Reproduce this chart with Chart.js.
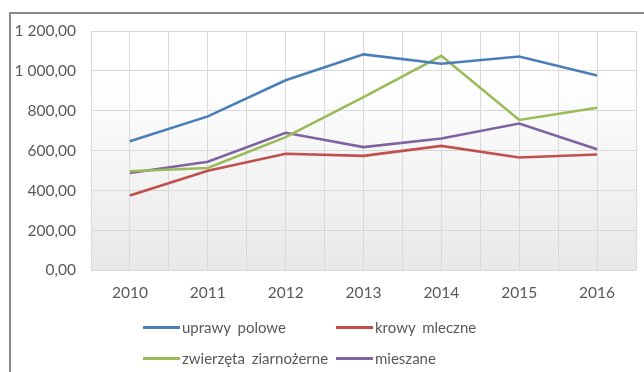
<!DOCTYPE html>
<html>
<head>
<meta charset="utf-8">
<script src="https://cdn.jsdelivr.net/npm/chart.js@4"></script>
<style>
  html, body { margin: 0; padding: 0; background: #fff; }
  #wrap { position: relative; width: 644px; height: 372px; overflow: hidden; }
  #frame { position: absolute; left: 9px; top: 12px; width: 700px; height: 400px;
           border-top: 2px solid #8a8a8a; border-left: 2px solid #8a8a8a; }
  #chart { position: absolute; left: 0; top: 0; }
  .leg { position: absolute; font-family: Lato, "Liberation Sans", sans-serif; font-size: 15px;
         color: #595959; word-spacing: 3px; line-height: 18px; white-space: nowrap; }
  .leg i { position: absolute; left: -39px; top: 8px; width: 37px; height: 3px; }
</style>
</head>
<body>
<div id="wrap">
  <div id="frame"></div>
  <canvas id="chart" width="644" height="372"></canvas>
  <div id="legend"></div>
</div>
<script>
const years = [2010, 2011, 2012, 2013, 2014, 2015, 2016];
const seriesNames = ['uprawy polowe', 'krowy mleczne', 'zwierzęta ziarnożerne', 'mieszane'];
const uprawyPolowe = [647, 772, 953, 1083, 1036, 1072, 977];
const krowyMleczne = [375, 500, 585, 574, 624, 566, 581];
const zwierzetaZiarnozerne = [497, 513, 668, 869, 1076, 754, 815];
const mieszane = [488, 545, 690, 618, 661, 736, 607];
const yTicks = [0, 200, 400, 600, 800, 1000, 1200];
const colors = ['#4a7ebb', '#c0504d', '#9bbb59', '#8064a2'];

// legend slots (two columns, two rows)
const legendPos = [[182, 318], [375, 318], [182, 349], [375, 349]];

function fmt(v) {
    const s = String(Math.round(v)).replace(/\B(?=(\d{3})+(?!\d))/g, ' ');
    return s + ',00';
}

const allSeries = [uprawyPolowe, krowyMleczne, zwierzetaZiarnozerne, mieszane];

const plotBackground = {
    id: 'plotBackground',
    beforeDraw(chart) {
        const { ctx, chartArea: a } = chart;
        const g = ctx.createLinearGradient(0, a.top, 0, a.bottom);
        g.addColorStop(0, '#ffffff');
        g.addColorStop(0.2, '#ffffff');
        g.addColorStop(1, '#e8e8e8');
        ctx.save();
        ctx.fillStyle = g;
        ctx.fillRect(a.left, a.top, a.right - a.left, a.bottom - a.top);
        ctx.restore();
    }
};

new Chart(document.getElementById('chart'), {
    type: 'line',
    data: {
        datasets: allSeries.map((vals, i) => ({
            label: seriesNames[i],
            data: years.map((y, j) => ({ x: y, y: vals[j] })),
            borderColor: colors[i],
            backgroundColor: colors[i],
            borderWidth: 2.6,
            pointRadius: 0,
            tension: 0
        }))
    },
    options: {
        responsive: false,
        animation: false,
        layout: { padding: { left: 0, right: 8, top: 31, bottom: 57 } },
        plugins: { legend: { display: false }, tooltip: { enabled: false } },
        scales: {
            x: {
                type: 'linear',
                min: years[0] - 0.5,
                max: years[years.length - 1] + 0.5,
                afterFit: s => { s.paddingRight = 0; s.paddingLeft = 0; },
                grid: { color: '#d9d9d9', drawTicks: false },
                border: { display: false },
                ticks: {
                    stepSize: 0.5,
                    autoSkip: false,
                    maxRotation: 0,
                    padding: 13,
                    color: '#595959',
                    font: { family: 'Lato, "Liberation Sans", sans-serif', size: 15.5 },
                    callback: v => Number.isInteger(v) ? String(v) : ''
                }
            },
            y: {
                min: yTicks[0],
                max: yTicks[yTicks.length - 1],
                afterBuildTicks: s => { s.ticks = yTicks.map(v => ({ value: v })); },
                afterFit: s => { s.width = 91; },
                grid: { color: '#d9d9d9', drawTicks: false },
                border: { display: false },
                ticks: {
                    padding: 15,
                    color: '#595959',
                    font: { family: 'Lato, "Liberation Sans", sans-serif', size: 15.5 },
                    callback: v => fmt(v)
                }
            }
        }
    },
    plugins: [plotBackground]
});

const legend = document.getElementById('legend');
seriesNames.forEach((name, i) => {
    const d = document.createElement('div');
    d.className = 'leg';
    d.style.left = legendPos[i][0] + 'px';
    d.style.top = legendPos[i][1] + 'px';
    d.innerHTML = '<i style="background:' + colors[i] + '"></i>' + name;
    legend.appendChild(d);
});
</script>
</body>
</html>
